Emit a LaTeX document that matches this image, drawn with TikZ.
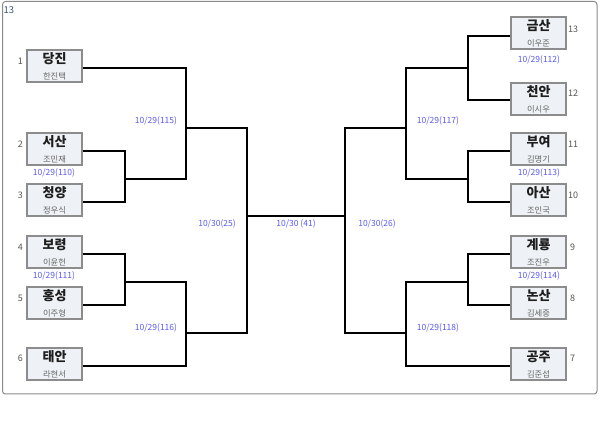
\documentclass[tikz,border=0pt]{standalone}
\usepackage{fontspec}
\setmainfont{Noto Sans CJK KR}
\definecolor{boxfill}{HTML}{EEF1F5}
\definecolor{boxline}{HTML}{8C8C8C}
\definecolor{titlec}{HTML}{1E1E1E}
\definecolor{namec}{HTML}{666666}
\definecolor{seedc}{HTML}{555555}
\definecolor{datec}{HTML}{5A5AF0}
\definecolor{framec}{HTML}{8A8A8A}
\definecolor{cornerc}{HTML}{3B5470}
\newcommand\teambox[6]{%
  \node[team] (#1) at (#2,#3) {};
  \node[ttl] (#1t) at ([yshift=-9.5pt]#1.north) {#4};
  \node[nm] (#1n) at ([yshift=6.5pt]#1.south) {#5};
}
\begin{document}
\begin{tikzpicture}[x=1pt,y=-1pt,
  team/.style={draw=boxline, fill=boxfill, line width=1.4pt, minimum width=55pt, minimum height=32pt, inner sep=0pt},
  ttl/.style={font=\bfseries\fontsize{13}{13}\selectfont, text=titlec, inner sep=0pt},
  nm/.style={font=\fontsize{8.3}{9}\selectfont, text=namec, inner sep=0pt},
  seed/.style={font=\fontsize{9}{10}\selectfont, text=seedc, inner sep=0pt},
  datelbl/.style={font=\fontsize{8.5}{9}\selectfont, text=datec, inner sep=0pt},
  wire/.style={line width=1.8pt, black}]
\useasboundingbox (0,0) rectangle (600,443);
\draw[framec, line width=1pt, rounded corners=3pt] (2.5,1.5) rectangle (597,394);
\node[font=\fontsize{9.5}{10}\selectfont, text=cornerc, inner sep=0pt] (corner) at (8.8,10) {13};

% left teams
\teambox{L1}{54.5}{66}{당진}{한진택}{}
\teambox{L2}{54.5}{149}{서산}{조민재}{}
\teambox{L3}{54.5}{200}{청양}{정우식}{}
\teambox{L4}{54.5}{252}{보령}{이윤헌}{}
\teambox{L5}{54.5}{303}{홍성}{이주형}{}
\teambox{L6}{54.5}{364}{태안}{라현서}{}
% right teams
\teambox{R13}{538.5}{33}{금산}{이우준}{}
\teambox{R12}{538.5}{99}{천안}{이시우}{}
\teambox{R11}{538.5}{149}{부여}{김명기}{}
\teambox{R10}{538.5}{200}{아산}{조인국}{}
\teambox{R9}{538.5}{252}{계룡}{조진우}{}
\teambox{R8}{538.5}{303}{논산}{김세중}{}
\teambox{R7}{538.5}{364}{공주}{김준섭}{}

% seeds
\node[seed, anchor=east] (s1) at (23,61) {1};
\node[seed, anchor=east] (s2) at (23,144) {2};
\node[seed, anchor=east] (s3) at (23,195) {3};
\node[seed, anchor=east] (s4) at (23,247) {4};
\node[seed, anchor=east] (s5) at (23,298) {5};
\node[seed, anchor=east] (s6) at (23,358) {6};
\node[seed, anchor=west] (s13) at (568,29) {13};
\node[seed, anchor=west] (s12) at (568,93) {12};
\node[seed, anchor=west] (s11) at (568,144) {11};
\node[seed, anchor=west] (s10) at (568,195) {10};
\node[seed, anchor=west] (s9) at (570,247) {9};
\node[seed, anchor=west] (s8) at (570,298) {8};
\node[seed, anchor=west] (s7) at (570,358) {7};

% junctions
\coordinate (j23) at (125,179);
\coordinate (j45) at (125,282);
\coordinate (q1) at (186,128);
\coordinate (q2) at (186,333);
\coordinate (sL) at (247,216);
\coordinate (sR) at (345,216);
\coordinate (r1312) at (468,68);
\coordinate (r1110) at (468,179);
\coordinate (r98) at (468,282);
\coordinate (p1) at (406,128);
\coordinate (p2) at (406,333);

% wires left
\draw[wire] ([yshift=-2pt]L2.east) -| (j23) |- ([yshift=-2pt]L3.east);
\draw[wire] ([yshift=-2pt]L1.east) -| (q1) |- (j23);
\draw[wire] ([yshift=-2pt]L4.east) -| (j45) |- ([yshift=-2pt]L5.east);
\draw[wire] (j45) -| (q2) |- ([yshift=-2pt]L6.east);
\draw[wire] (q1) -| (sL) |- (q2);
\draw[wire] (sL) -- (sR);
% wires right
\draw[wire] ([yshift=-3pt]R13.west) -| (r1312) |- ([yshift=-1pt]R12.west);
\draw[wire] ([yshift=-2pt]R11.west) -| (r1110) |- ([yshift=-2pt]R10.west);
\draw[wire] ([yshift=-2pt]R9.west) -| (r98) |- ([yshift=-2pt]R8.west);
\draw[wire] (r1312) -| (p1) |- (r1110);
\draw[wire] (r98) -| (p2) |- ([yshift=-2pt]R7.west);
\draw[wire] (p1) -| (sR) |- (p2);

% dates
\node[datelbl] (d115) at (156,121) {10/29(115)};
\node[datelbl] (d110) at (54,173) {10/29(110)};
\node[datelbl] (d111) at (54,276) {10/29(111)};
\node[datelbl] (d116) at (156,328) {10/29(116)};
\node[datelbl] (d25) at (217,224) {10/30(25)};
\node[datelbl] (d41) at (296,224) {10/30 (41)};
\node[datelbl] (d26) at (377,224) {10/30(26)};
\node[datelbl] (d117) at (438,121) {10/29(117)};
\node[datelbl] (d112) at (539,60) {10/29(112)};
\node[datelbl] (d113) at (539,173) {10/29(113)};
\node[datelbl] (d114) at (539,276) {10/29(114)};
\node[datelbl] (d118) at (438,328) {10/29(118)};
\end{tikzpicture}
\end{document}
